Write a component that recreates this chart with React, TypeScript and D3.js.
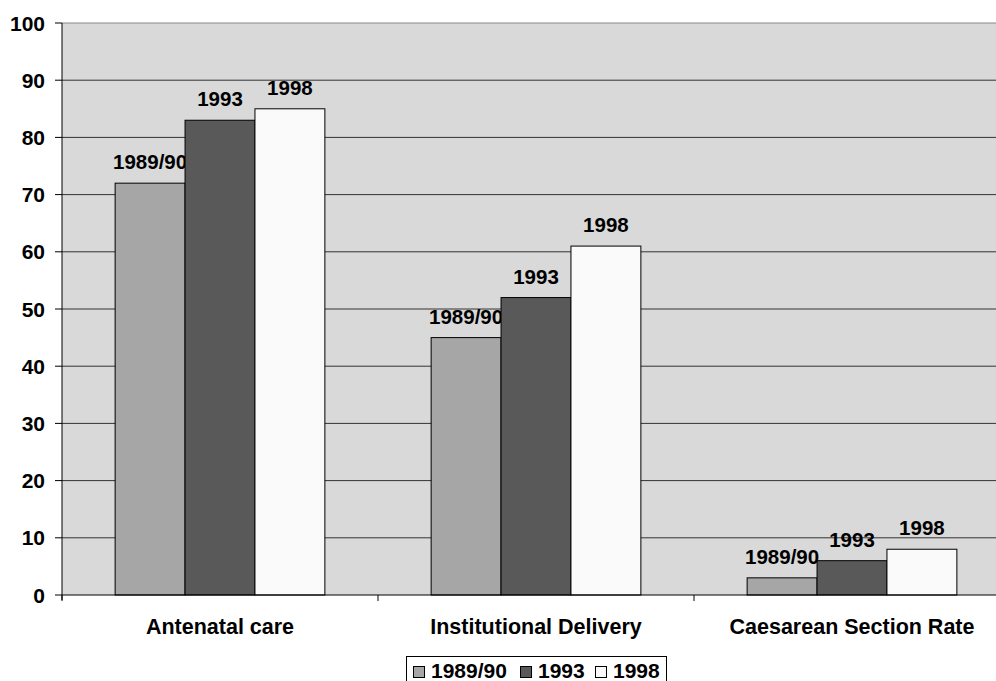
import React from 'react'
import * as d3 from 'd3'

const categories = ['Antenatal care', 'Institutional Delivery', 'Caesarean Section Rate']
const seriesNames = ['1989/90', '1993', '1998']
const values1989 = [72, 45, 3]
const values1993 = [83, 52, 6]
const values1998 = [85, 61, 8]
const yTicks = [0, 10, 20, 30, 40, 50, 60, 70, 80, 90, 100]
const colors = ['#a6a6a6', '#595959', '#fafafa']

const W = 996
const H = 681
const font = '"Liberation Sans", Arial, sans-serif'

export default function App() {
  const left = 62
  const right = 1010
  const top = 23
  const bottom = 595

  const x = d3.scaleBand().domain(categories).range([left, right])
  const inner = d3.scaleBand().domain(seriesNames).range([0, x.bandwidth()]).paddingOuter(0.76).paddingInner(0)
  const y = d3.scaleLinear().domain([0, 100]).range([bottom, top])

  const series = [values1989, values1993, values1998]

  // legend swatch positions
  const legendX = [413, 520, 595]

  return (
    <svg width={W} height={H} style={{ position: 'absolute', left: 0, top: 0, fontFamily: font }}>
      <rect x={left} y={top} width={right - left} height={bottom - top} fill="#d9d9d9" />
      {yTicks.map(t => (
        <g key={t}>
          {t > 0 && <line x1={left} x2={right} y1={y(t)} y2={y(t)} stroke={t === 100 ? '#888' : '#333'} strokeWidth={1} />}
          <line x1={left - 7} x2={left} y1={y(t)} y2={y(t)} stroke="#000" />
          <text x={45} y={y(t)} dy="0.36em" textAnchor="end" fontSize={21} fontWeight="bold">{t}</text>
        </g>
      ))}
      {categories.map((c, ci) => (
        <g key={c}>
          {seriesNames.map((s, si) => {
            const v = series[si][ci]
            const bx = (x(c) as number) + (inner(s) as number)
            return (
              <g key={s}>
                <rect x={bx} y={y(v)} width={inner.bandwidth()} height={bottom - y(v)} fill={colors[si]} stroke="#000" strokeWidth={1} />
                <text x={bx + inner.bandwidth() / 2} y={y(v) - 14} textAnchor="middle" fontSize={20.5} fontWeight="bold">{s}</text>
              </g>
            )
          })}
          <text x={(x(c) as number) + x.bandwidth() / 2} y={634} textAnchor="middle" fontSize={21.5} fontWeight="bold">{c}</text>
          <line x1={x(c)} x2={x(c)} y1={bottom} y2={bottom + 6} stroke="#000" />
        </g>
      ))}
      <line x1={right} x2={right} y1={bottom} y2={bottom + 6} stroke="#000" />
      <line x1={left} x2={left} y1={top} y2={bottom + 5} stroke="#000" />
      <line x1={left} x2={right} y1={bottom} y2={bottom} stroke="#000" />
      <g>
        <rect x={406.5} y={656.5} width={260} height={40} fill="#fff" stroke="#000" />
        {seriesNames.map((s, i) => (
          <g key={s}>
            <rect x={legendX[i] + 0.5} y={666.5} width={11} height={11} fill={colors[i]} stroke="#000" />
            <text x={legendX[i] + 18} y={678} fontSize={21} fontWeight="bold">{s}</text>
          </g>
        ))}
      </g>
    </svg>
  )
}
